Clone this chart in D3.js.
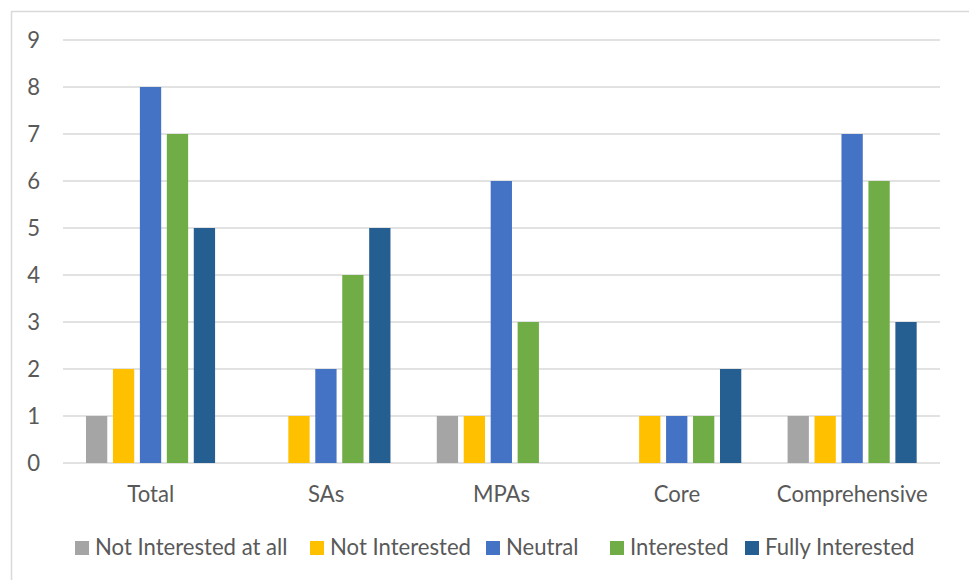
<!DOCTYPE html>
<html><head><meta charset="utf-8">
<script src="https://cdn.jsdelivr.net/npm/d3@7"></script>
<style>body{margin:0;background:#fff}svg{display:block}</style>
</head><body><svg id="c" width="969" height="580"></svg>
<script>
const categories = ["Total","SAs","MPAs","Core","Comprehensive"];
const seriesNames = ["Not Interested at all","Not Interested","Neutral","Interested","Fully Interested"];
const notInterestedAtAll = [1,0,1,0,1];
const notInterested = [2,1,1,1,1];
const neutral = [8,2,6,1,7];
const interested = [7,4,3,1,6];
const fullyInterested = [5,5,0,2,3];
const yTicks = [0,1,2,3,4,5,6,7,8,9];
const colors = ["#A5A5A5","#FFC000","#4472C4","#70AD47","#255E91"];
const seriesValues = [notInterestedAtAll,notInterested,neutral,interested,fullyInterested];

(function(){
const font = "Lato, sans-serif";
const svg = d3.select("#c");
const probe = svg.append("text").attr("font-family",font).attr("font-size",100).text("Not Interested");
const w100 = probe.node().getComputedTextLength(); probe.remove();
const fs = 100*141/w100;

svg.append("rect").attr("x",11.5).attr("y",11.5).attr("width",975).attr("height",600)
  .attr("fill","none").attr("stroke","#d9d9d9").attr("stroke-width",1.5);

const pL=63, pR=940, pT=40, pB=463;
const x0 = d3.scaleBand().domain(categories).range([pL,pR]).padding(0);
const bw = x0.bandwidth();
const x1 = d3.scaleBand().domain(seriesNames).range([bw*0.131, bw*0.867]).paddingInner(0.21);
const y = d3.scaleLinear().domain([0,9]).range([pB,pT]);

svg.append("g").selectAll("line").data(yTicks).join("line")
  .attr("x1",pL).attr("x2",pR).attr("y1",d=>y(d)).attr("y2",d=>y(d))
  .attr("stroke","#d9d9d9").attr("stroke-width",1.6);

svg.append("g").selectAll("text").data(yTicks).join("text")
  .attr("x",40).attr("y",d=>y(d)).attr("dy","0.35em").attr("text-anchor","end")
  .attr("font-family",font).attr("font-size",fs).attr("fill","#595959").text(d=>d);

const groups = svg.append("g").selectAll("g").data(categories).join("g")
  .attr("transform",d=>`translate(${x0(d)},0)`);
groups.selectAll("rect").data((c,ci)=>seriesNames.map((s,si)=>({s,si,v:seriesValues[si][ci]})).filter(d=>d.v>0))
  .join("rect")
  .attr("x",d=>x1(d.s)).attr("width",x1.bandwidth())
  .attr("y",d=>y(d.v)).attr("height",d=>y(0)-y(d.v))
  .attr("fill",d=>colors[d.si]);

svg.append("g").selectAll("text").data(categories).join("text")
  .attr("x",d=>x0(d)+bw/2).attr("y",502).attr("text-anchor","middle")
  .attr("font-family",font).attr("font-size",fs).attr("fill","#595959").text(d=>d);

const legendX = [75,310,486,610,745];
const lg = svg.append("g").selectAll("g").data(seriesNames).join("g")
  .attr("transform",(d,i)=>`translate(${legendX[i]},541)`);
lg.append("rect").attr("width",14).attr("height",14).attr("fill",(d,i)=>colors[i]);
lg.append("text").attr("x",20).attr("y",14).attr("font-family",font).attr("font-size",fs)
  .attr("fill","#595959").text(d=>d);
})();
</script></body></html>
